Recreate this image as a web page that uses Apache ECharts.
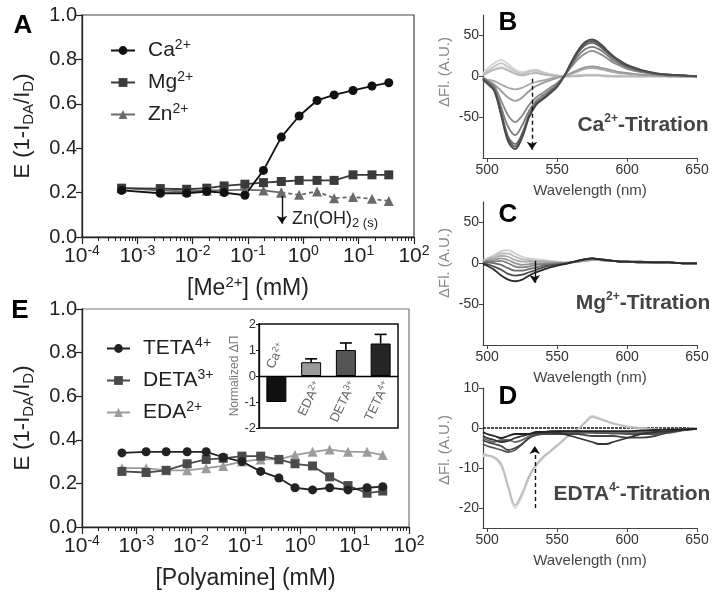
<!DOCTYPE html>
<html><head><meta charset="utf-8">
<script src="https://cdn.jsdelivr.net/npm/echarts@6/dist/echarts.min.js"></script>
<style>html,body{margin:0;padding:0;background:#fff}#c{width:718px;height:599px}</style>
</head><body><div id="c"></div>
<script>
const FONT = 'Liberation Sans, Arial, sans-serif';

// ---------- Panel A: E vs [Me2+] ----------
const concA = [0.00052, 0.0026, 0.0078, 0.018, 0.037, 0.088, 0.19, 0.40, 0.84, 1.77, 3.6, 7.9, 17.4, 35];
const caA = [0.21, 0.197, 0.197, 0.205, 0.2, 0.188, 0.30, 0.45, 0.545, 0.615, 0.64, 0.66, 0.68, 0.695];
const mgA = [0.22, 0.218, 0.215, 0.22, 0.23, 0.238, 0.245, 0.25, 0.255, 0.255, 0.255, 0.28, 0.28, 0.28];
const znA = [0.22, 0.21, 0.205, 0.21, 0.21, 0.213, 0.21, 0.2, 0.19, 0.205, 0.175, 0.18, 0.172, 0.162];
const znSolidLast = 7;           // index after which Zn(OH)2 precipitates (dashed)
const znArrow = [[0.41, 0.185], [0.41, 0.06]];

// ---------- Panel E: E vs [Polyamine] ----------
const concE = [0.00054, 0.0015, 0.0035, 0.0085, 0.019, 0.039, 0.086, 0.19, 0.41, 0.81, 1.7, 3.5, 7.6, 17, 33];
const tetaE = [0.34, 0.345, 0.345, 0.345, 0.345, 0.32, 0.30, 0.255, 0.225, 0.18, 0.17, 0.18, 0.17, 0.18, 0.185];
const detaE = [0.255, 0.25, 0.26, 0.29, 0.31, 0.315, 0.325, 0.325, 0.31, 0.29, 0.28, 0.23, 0.19, 0.155, 0.165];
const edaE  = [0.27, 0.27, 0.26, 0.26, 0.27, 0.28, 0.30, 0.31, 0.31, 0.33, 0.345, 0.355, 0.345, 0.345, 0.33];

// ---------- Inset bar chart ----------
const insetCats = ['Ca2+', 'EDA2+', 'DETA3+', 'TETA4+'];
const insetValues = [-1, 0.53, 1.0, 1.25];
const insetErrors = [0, 0.13, 0.27, 0.35];

// ---------- Spectra (B, C, D) ----------
const wl = [497,500,505,510,515,520,525,530,535,540,545,550,555,560,565,570,575,580,585,590,595,600,610,620,630,640,650];
const specB = [
  [3,6,9,12,8,4,3,5,6,4,2,1,0,1,2,2,2,2,1,1,1,0,0,0,0,0,0],
  [4,9,16,20,15,8,5,7,8,5,3,1,0,0,1,1,1,1,1,0,0,0,0,0,0,0,0],
  [2,6,12,16,11,6,3,6,7,4,2,1,0,0,1,1,1,1,0,0,0,0,0,0,0,0,0],
  [1,4,8,10,7,3,1,3,4,2,1,0,0,0,0,1,1,1,0,0,0,0,0,0,0,0,0],
  [-2,-4,-6,-10,-14,-16,-14,-10,-7,-5,-3,-1,0,3,6,9,10,9,7,5,4,3,2,1,0,0,0],
  [-3,-6,-10,-18,-26,-30,-26,-18,-12,-8,-5,-2,0,4,8,11,12,11,9,7,5,4,2,1,0,0,0],
  [-2,-5,-12,-30,-48,-56,-48,-35,-26,-20,-14,-8,0,11,21,28,31,28,23,17,13,9,5,3,1,0,0],
  [-2,-6,-14,-38,-62,-72,-60,-42,-30,-23,-17,-10,0,13,25,33,36,33,27,20,15,11,6,3,1,1,0],
  [-3,-7,-16,-44,-74,-83,-70,-47,-33,-26,-19,-12,0,15,29,38,41,37,30,23,17,12,7,3,2,1,0],
  [-3,-8,-17,-46,-77,-86,-72,-48,-34,-27,-20,-12,0,16,30,40,43,39,32,24,18,13,7,4,2,1,0],
  [-4,-9,-18,-48,-80,-89,-75,-50,-35,-28,-21,-13,0,17,32,42,45,41,33,25,19,14,8,4,2,1,0]
];
const specC = [
  [3,6,10,15,16,12,8,6,5,4,3,2,1,1,2,3,4,4,3,3,2,2,2,1,1,0,0],
  [2,5,8,12,12,8,5,4,3,3,2,1,1,1,2,3,4,4,3,3,2,2,2,1,1,0,0],
  [2,4,6,9,8,4,2,2,2,2,1,1,0,1,2,3,4,4,3,3,2,2,1,1,1,0,0],
  [1,3,4,6,4,0,-2,-1,0,0,0,0,0,1,2,4,5,4,3,3,2,2,1,1,1,0,0],
  [1,2,2,3,0,-4,-5,-4,-2,-1,-1,0,0,1,3,4,5,5,4,3,2,2,1,1,1,0,0],
  [0,1,0,-2,-6,-9,-9,-7,-5,-3,-2,-1,0,1,3,5,6,5,4,3,2,2,1,1,1,0,0],
  [0,-1,-4,-8,-13,-15,-14,-11,-8,-5,-3,-2,-1,1,3,5,6,5,4,3,2,2,1,1,1,0,0],
  [-1,-3,-8,-15,-20,-22,-20,-15,-11,-8,-5,-3,-1,1,3,5,6,5,4,3,2,2,2,1,1,0,0]
];
const specD = [
  [-7,-7,-7.5,-9.5,-15,-20,-17,-12.5,-9.5,-7.5,-6,-4.5,-3,-1.5,-0.3,1.5,3,2.5,1.8,1.2,0.8,0.4,0,-0.4,-0.5,-0.3,0],
  [-6.5,-6.8,-7.3,-9,-14.5,-19.3,-16.3,-12,-9.2,-7.2,-5.8,-4.3,-2.8,-1.3,-0.2,1.3,2.7,2.3,1.7,1.1,0.7,0.3,0,-0.3,-0.5,-0.3,0],
  [-2.5,-3,-3.5,-3,-3,-3.5,-3,-2,-1.2,-1,-1,-0.8,-0.8,-0.8,-0.8,-1,-1,-1,-1,-1,-1,-1,-1,-1,-1,-0.5,-0.2],
  [-4,-4.5,-5,-5.5,-6,-5.5,-4,-2.5,-1.5,-1.2,-1,-1,-1,-1,-1.2,-1.2,-1.2,-1.3,-1.3,-1.4,-1.4,-1.5,-1.5,-1.5,-1.2,-0.6,-0.2],
  [-3,-3.5,-4,-4.5,-5.5,-5,-4,-2.5,-1.8,-1.5,-1.5,-1.5,-1.5,-1.5,-1.5,-1.8,-2,-2,-2,-2,-2.2,-2.4,-2.4,-2,-1,-0.5,-0.2],
  [-2,-2.5,-3,-3.5,-3.2,-2.5,-2,-1.5,-1.2,-1,-1,-1.2,-1.5,-2,-2.5,-3,-3.5,-4,-4,-3.5,-3,-2.5,-1.5,-1,-0.8,-0.4,-0.2],
  [-1,-1.5,-2,-2.5,-2,-1.5,-1.5,-1.5,-1,-1,-0.8,-0.8,-0.8,-0.8,-0.8,-0.8,-0.8,-0.8,-0.8,-0.8,-0.8,-0.8,-0.6,-0.5,-0.4,-0.3,-0.2]
];
const arrowB = [[532, -3], [532, -90]];
const arrowC = [[534, 3], [534, -24]];
const arrowD = [[534, -20], [534, -4.5]];

// tick values
const decadeTicks = [1e-4, 1e-3, 1e-2, 1e-1, 1, 10, 100];
const wlTicks = [500, 550, 600, 650];
const bcTicks = [-50, 0, 50];
const dTicks = [-20, -10, 0, 10];

// ---------- styles ----------
const colorsB = ['#e2e2e2','#d2d2d2','#c4c4c4','#b6b6b6','#a8a8a8','#9a9a9a','#8a8a8a','#7a7a7a','#666666','#585858','#4a4a4a'];
const colorsC = ['#cfcfcf','#bdbdbd','#aaaaaa','#969696','#828282','#6a6a6a','#4d4d4d','#2a2a2a'];
const colorsD = ['#d6d6d6','#bcbcbc','#6a6a6a','#555555','#444444','#333333','#222222'];
const insetColors = ['#111111', '#9a9a9a', '#555555', '#262626'];

const minorTicks = [];
for (let d = -4; d < 2; d++) for (let k = 2; k <= 9; k++) minorTicks.push(+(k * Math.pow(10, d)).toPrecision(3));

const zip = (xs, ys) => xs.map((x, i) => [x, ys[i]]);
const supRich = (fs, sfs, color) => ({
  b: {fontSize: fs, fontFamily: FONT, color: color, lineHeight: fs + 4},
  s: {fontSize: sfs, fontFamily: FONT, color: color, verticalAlign: 'top', lineHeight: sfs + 1},
  n: {fontSize: fs, fontFamily: FONT, color: color, lineHeight: fs + 4},
  sub: {fontSize: sfs, fontFamily: FONT, color: color, verticalAlign: 'bottom', lineHeight: sfs + 1}
});
const supName = name => { const m = name.match(/^(.*?)(\d[+-])$/); return m ? `{b|${m[1]}}{s|${m[2]}}` : `{b|${name}}`; };

function logX(grid, nameTxt) {
  return [{
    type: 'log', logBase: 10, gridIndex: grid, min: 1e-4, max: 100, position: 'bottom',
    name: nameTxt, nameLocation: 'middle', nameGap: 38,
    nameTextStyle: {rich: supRich(23, 15, '#222')},
    axisLine: {show: true, lineStyle: {color: '#222', width: 1.3}},
    axisTick: {show: true, length: 7, customValues: decadeTicks, lineStyle: {color: '#222', width: 1.2}},
    axisLabel: {customValues: decadeTicks, margin: 7, formatter: v => `{b|10}{s|${Math.round(Math.log10(v))}}`, rich: supRich(21, 14, '#222')},
    splitLine: {show: false}, minorTick: {show: false}
  }, {
    type: 'log', logBase: 10, gridIndex: grid, min: 1e-4, max: 100, position: 'bottom',
    axisLine: {show: false},
    axisTick: {show: true, length: 4, customValues: minorTicks, lineStyle: {color: '#222', width: 1}},
    axisLabel: {show: false}, splitLine: {show: false}
  }];
}
function eY(grid) {
  return {
    type: 'value', gridIndex: grid, min: 0, max: 1, interval: 0.2,
    name: '{n|E (1-I}{sub|DA}{n|/I}{sub|D}{n|)}', nameLocation: 'middle', nameGap: 46,
    nameTextStyle: {rich: supRich(22, 15, '#222')},
    axisLine: {show: true, lineStyle: {color: '#222', width: 1.3}},
    axisTick: {show: true, length: 6, lineStyle: {color: '#222', width: 1.2}},
    axisLabel: {fontSize: 20, fontFamily: FONT, color: '#222', margin: 5, formatter: v => v.toFixed(1)},
    splitLine: {show: false}
  };
}
function wlX(grid) {
  return {
    type: 'value', gridIndex: grid, min: 497, max: 650,
    name: 'Wavelength (nm)', nameLocation: 'middle', nameGap: 25,
    nameTextStyle: {fontSize: 15, fontFamily: FONT, color: '#444'},
    axisLine: {show: true, onZero: false, lineStyle: {color: '#444', width: 1.2}},
    axisTick: {show: true, length: 4, customValues: wlTicks, lineStyle: {color: '#444'}},
    axisLabel: {customValues: wlTicks, fontSize: 14, fontFamily: FONT, color: '#333', margin: 5},
    splitLine: {show: false}
  };
}
function specY(grid, mn, mx, ticks) {
  return {
    type: 'value', gridIndex: grid, min: mn, max: mx,
    axisLine: {show: true, onZero: false, lineStyle: {color: '#444', width: 1.2}},
    axisTick: {show: true, length: 4, customValues: ticks, lineStyle: {color: '#444'}},
    axisLabel: {customValues: ticks, fontSize: 14, fontFamily: FONT, color: '#333', margin: 4},
    splitLine: {show: false}
  };
}

const xAxis = [
  ...logX(0, '{b|[Me}{s|2+}{b|] (mM)}'),
  ...logX(1, '{b|[Polyamine] (mM)}'),
  {type: 'category', gridIndex: 2, data: insetCats, axisLine: {onZero: true, lineStyle: {color: '#000', width: 1.3}},
   axisTick: {show: false}, axisLabel: {show: false}},
  wlX(3), wlX(4), wlX(5)
];
const yAxis = [
  eY(0), eY(1),
  {type: 'value', gridIndex: 2, min: -2, max: 2, interval: 1,
   name: 'Normalized ΔΠ', nameLocation: 'middle', nameGap: 17,
   nameTextStyle: {fontSize: 12, fontFamily: FONT, color: '#777'},
   axisLine: {show: true, lineStyle: {color: '#000', width: 1.3}},
   axisTick: {show: true, length: 3, lineStyle: {color: '#000'}},
   axisLabel: {fontSize: 13, fontFamily: FONT, color: '#333', margin: 3},
   splitLine: {show: false}},
  specY(3, -100, 75, bcTicks), specY(4, -100, 75, bcTicks), specY(5, -25, 10, dTicks)
];

const arrowLine = (pts, dashed) => ({
  silent: true, symbol: ['none', 'arrow'], symbolSize: 8, label: {show: false},
  lineStyle: {color: '#111', width: 1.4, type: dashed ? [4, 3] : 'solid'},
  emphasis: {disabled: true},
  data: [[{coord: pts[0]}, {coord: pts[1]}]]
});

const series = [];
function pointSeries(name, xi, yi, xs, ys, symbol, size, color, dashed) {
  return {name, type: 'line', xAxisIndex: xi, yAxisIndex: yi, data: zip(xs, ys),
    symbol, symbolSize: size, itemStyle: {color}, lineStyle: {color, width: 1.8, type: dashed ? [4, 3] : 'solid'},
    z: 3};
}
series.push(pointSeries('Zn2+', 0, 0, concA.slice(0, znSolidLast + 1), znA.slice(0, znSolidLast + 1), 'triangle', 10, '#6a6a6a'));
const znDash = pointSeries('Zn(OH)2', 0, 0, concA.slice(znSolidLast), znA.slice(znSolidLast), 'triangle', 10, '#6a6a6a', true);
znDash.markLine = arrowLine(znArrow, false);
series.push(znDash);
series.push(pointSeries('Mg2+', 0, 0, concA, mgA, 'rect', 9, '#3a3a3a'));
series.push(pointSeries('Ca2+', 0, 0, concA, caA, 'circle', 9, '#111111'));

series.push(pointSeries('EDA2+', 2, 1, concE, edaE, 'triangle', 10, '#9c9c9c'));
series.push(pointSeries('DETA3+', 2, 1, concE, detaE, 'rect', 9, '#4a4a4a'));
series.push(pointSeries('TETA4+', 2, 1, concE, tetaE, 'circle', 9, '#222222'));

series.push({type: 'bar', xAxisIndex: 4, yAxisIndex: 2, barWidth: 20, silent: true,
  data: insetValues.map((v, i) => ({value: v, itemStyle: {color: insetColors[i], borderColor: '#000', borderWidth: 1}}))});
series.push({type: 'custom', xAxisIndex: 4, yAxisIndex: 2, silent: true, encode: {x: 0, y: 1},
  data: insetValues.map((v, i) => [i, v, insetErrors[i]]),
  renderItem: (params, api) => {
    const i = api.value(0), v = api.value(1), e = api.value(2);
    if (!e) return null;
    const p0 = api.coord([i, v]), p1 = api.coord([i, v + e]);
    const st = {stroke: '#000', lineWidth: 1.6};
    return {type: 'group', children: [
      {type: 'line', shape: {x1: p0[0], y1: p0[1], x2: p1[0], y2: p1[1]}, style: st},
      {type: 'line', shape: {x1: p1[0] - 6, y1: p1[1], x2: p1[0] + 6, y2: p1[1]}, style: st}
    ]};
  }});

function specSeries(list, colors, xi, yi, arrow, dashed) {
  list.forEach((arr, i) => {
    const s = {type: 'line', xAxisIndex: xi, yAxisIndex: yi, data: zip(wl, arr), showSymbol: false, symbol: 'none',
      smooth: 0.35, silent: true, lineStyle: {color: colors[i], width: 1.8}, z: 2};
    if (i === list.length - 1) s.markLine = arrowLine(arrow, dashed);
    series.push(s);
  });
}
series.push({type: 'line', xAxisIndex: 7, yAxisIndex: 5, data: [[497, 0], [650, 0]], showSymbol: false, symbol: 'none', silent: true,
  lineStyle: {color: '#111', width: 1.3, type: [3, 1]}, z: 1});
specSeries(specB, colorsB, 5, 3, arrowB, true);
specSeries(specC, colorsC, 6, 4, arrowC, false);
specSeries(specD, colorsD, 7, 5, arrowD, true);

const letter = (t, x, y) => ({type: 'text', x, y, z: 10, style: {text: t, fontSize: 26, fontWeight: 'bold', fontFamily: FONT, fill: '#000', align: 'center', verticalAlign: 'middle'}});
const boldRich = {
  b: {fontSize: 21, fontWeight: 'bold', fontFamily: FONT, fill: '#444', color: '#444', lineHeight: 24},
  s: {fontSize: 12, fontWeight: 'bold', fontFamily: FONT, fill: '#444', color: '#444', verticalAlign: 'top', lineHeight: 13}
};
const titr = (t, x, y) => ({type: 'text', x, y, z: 10, style: {text: t, rich: boldRich, align: 'center', verticalAlign: 'middle'}});
const yName = (x, y) => ({type: 'text', x, y, rotation: Math.PI / 2, z: 10,
  style: {text: 'ΔFl. (A.U.)', fontSize: 15, fontFamily: FONT, fill: '#888', align: 'center', verticalAlign: 'middle'}});
const insetRich = {
  b: {fontSize: 13, fontFamily: FONT, fill: '#666', color: '#666', lineHeight: 15},
  s: {fontSize: 9, fontFamily: FONT, fill: '#666', color: '#666', verticalAlign: 'top', lineHeight: 10}
};
const rot = 64 * Math.PI / 180;
const catLabel = (t, x, y, align) => ({type: 'text', x, y, rotation: rot, z: 10,
  style: {text: supName(t), rich: insetRich, align, verticalAlign: 'middle'}});

const graphic = [
  letter('A', 23, 26), letter('E', 20, 311), letter('B', 508, 23), letter('C', 508, 215), letter('D', 508, 397),
  titr('{b|Ca}{s|2+}{b|-Titration}', 643, 125),
  titr('{b|Mg}{s|2+}{b|-Titration}', 643, 303),
  titr('{b|EDTA}{s|4-}{b|-Titration}', 632, 494),
  yName(445, 72), yName(445, 263), yName(445, 450),
  {type: 'text', x: 292, y: 219, z: 10, style: {text: '{n|Zn(OH)}{sub|2 (s)}', align: 'left', verticalAlign: 'middle',
    rich: {n: {fontSize: 18, fontFamily: FONT, fill: '#222', color: '#222', lineHeight: 21},
           sub: {fontSize: 13, fontFamily: FONT, fill: '#222', color: '#222', verticalAlign: 'bottom', lineHeight: 14}}}},
  catLabel('Ca2+', 270, 368, 'left'),
  catLabel('EDA2+', 318, 382, 'right'),
  catLabel('DETA3+', 353, 382, 'right'),
  catLabel('TETA4+', 387, 382, 'right')
];

const legendBase = {orient: 'vertical', selectedMode: false, itemHeight: 11, itemGap: 9,
  formatter: supName, textStyle: {padding: [0, 0, 0, 8], rich: supRich(21, 14, '#222')}};

const chart = echarts.init(document.getElementById('c'), null, {renderer: 'canvas'});
chart.setOption({
  animation: false,
  backgroundColor: '#fff',
  textStyle: {fontFamily: FONT},
  grid: [
    {left: 82, top: 15, width: 332, height: 222, show: true, borderColor: '#444', borderWidth: 1.2},
    {left: 82, top: 309, width: 327, height: 218, show: true, borderColor: '#777', borderWidth: 1.2},
    {left: 259, top: 324, width: 139, height: 104, show: true, borderColor: '#111', borderWidth: 1.5, z: 5},
    {left: 483, top: 15, width: 214, height: 143},
    {left: 483, top: 202, width: 214, height: 143},
    {left: 483, top: 388, width: 214, height: 140}
  ],
  legend: [
    Object.assign({}, legendBase, {left: 105, top: 33, itemWidth: 24, data: ['Ca2+', 'Mg2+', 'Zn2+']}),
    Object.assign({}, legendBase, {left: 101, top: 331, itemWidth: 23, data: ['TETA4+', 'DETA3+', 'EDA2+']})
  ],
  xAxis, yAxis, series, graphic
});
</script></body></html>
